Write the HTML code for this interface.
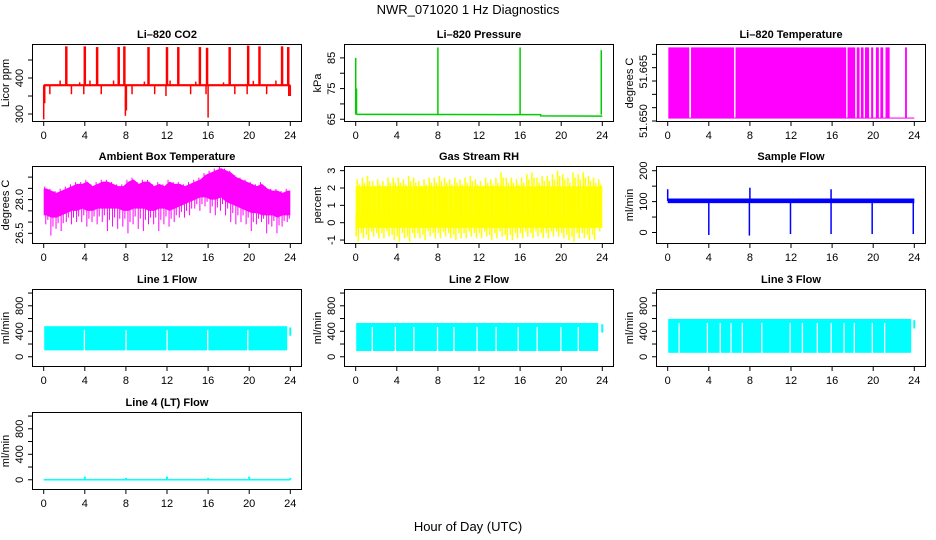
<!DOCTYPE html>
<html><head><meta charset="utf-8"><style>
html,body{margin:0;padding:0;background:#fff}
svg{display:block;font-family:"Liberation Sans",Arial,sans-serif}
</style></head><body>
<svg id="c" width="936" height="540" viewBox="0 0 936 540" xmlns="http://www.w3.org/2000/svg">
<text x="468" y="14" text-anchor="middle" font-size="13">NWR_071020  1 Hz Diagnostics</text>
<text x="468" y="531" text-anchor="middle" font-size="13">Hour of Day (UTC)</text>
</svg>
<script>
// ---- data ----
const xTicks=[0,4,8,12,16,20,24];
// CO2
const co2Base=380;
const co2SpikeH=[2.2,4.0,5.2,7.3,7.85,10.2,12.0,13.1,15.2,15.9,18.1,19.9,21.0,23.2,23.8];
const co2SpikeV=[488,488,486,486,488,486,486,486,486,484,486,490,488,488,486];
const co2DipH=[0.0,0.1,0.6,2.7,3.9,5.6,7.95,8.05,8.6,10.8,11.9,14.3,15.8,16.0,18.6,19.8,21.7,23.85,24.0];
const co2DipV=[285,330,355,355,355,355,295,310,355,355,350,355,355,290,355,355,355,350,350];
const co2BumpH=[1.6,3.5,4.5,6.8,9.8,12.3,14.8,17.5,20.4,22.6];
const co2BumpV=[393,388,393,393,390,393,390,388,392,393];
// Pressure
const presBaseH=[0.1,18,18.01,24];
const presBaseV=[66.6,66.5,66.1,66.0];
const presSpikeH=[0.0,0.08,8.0,16.0,23.9];
const presSpikeV=[85,75,88.4,88.4,87.5];
// Li-820 temperature
const tempHighStart=[0.06,2.27,6.6,17.5,18.4,18.8,19.2,19.8,20.26,20.7,21.2,23.1];
const tempHighEnd=[2.1,6.46,17.37,18.25,18.67,19.06,19.6,20.0,20.55,20.97,21.6,23.28];
const tempLow=51.6511, tempHigh=51.6776;
// Ambient box temp (half-hour bins)
const ambHi=[28.5,28.4,28.3,28.4,28.5,28.6,28.7,28.7,28.8,28.6,28.7,28.8,28.8,28.7,28.6,28.6,28.8,28.9,28.7,28.8,28.8,28.6,28.7,28.6,28.8,28.7,28.7,28.6,28.7,28.8,28.9,29.1,29.2,29.3,29.4,29.3,29.2,29.0,28.9,28.8,28.7,28.6,28.7,28.5,28.4,28.4,28.3,28.4];
const ambLo=[27.3,27.2,27.2,27.3,27.4,27.5,27.5,27.6,27.5,27.5,27.6,27.6,27.6,27.6,27.6,27.5,27.5,27.6,27.6,27.6,27.5,27.5,27.6,27.6,27.5,27.6,27.7,27.8,27.9,28.0,28.1,28.1,28.0,28.0,28.1,27.9,27.8,27.7,27.6,27.5,27.4,27.4,27.3,27.3,27.3,27.2,27.3,27.3];
const ambDip=[26.9,26.4,26.7,26.6,27.0,26.9,27.0,27.0,26.8,27.0,26.9,27.0,26.6,26.8,26.7,26.8,26.5,26.9,26.7,26.6,26.9,26.9,26.6,26.9,26.8,27.0,27.2,27.2,27.3,27.6,27.5,27.7,27.4,27.3,27.5,27.3,27.0,26.9,27.0,26.9,26.6,26.9,27.0,26.5,26.8,26.5,26.8,27.0];
// Gas stream RH
const rhHi=[2.5,2.6,2.7,2.4,2.5,2.4,2.6,2.6,2.6,2.5,2.7,2.6,2.4,2.5,2.6,2.6,2.7,2.6,2.5,2.6,2.5,2.6,2.7,2.5,2.4,2.6,2.5,2.6,2.9,2.6,2.6,2.5,2.6,2.8,2.9,2.6,2.7,2.7,2.8,3.0,2.8,2.6,2.9,2.8,2.9,2.7,2.6,2.5];
const rhLo=[-1.1,-0.9,-1.0,-0.8,-0.9,-0.9,-0.8,-1.0,-1.1,-0.9,-1.1,-0.9,-0.9,-1.0,-0.8,-0.9,-0.9,-0.8,-0.9,-1.0,-0.9,-0.9,-0.8,-0.9,-0.9,-0.8,-1.0,-0.9,-0.8,-1.0,-1.0,-0.9,-0.9,-0.8,-0.9,-0.8,-0.9,-0.9,-0.8,-0.8,-0.9,-1.0,-1.1,-0.9,-0.9,-1.0,-1.0,-0.5];
// Sample flow
const sfHi=110, sfLo=95, sfBase=102;
const sfDipH=[4.0,7.95,11.95,15.9,19.9,23.9];
const sfDipV=[-8,-10,-5,-5,-5,-5];
const sfSpikeH=[0.0,8.0,15.9];
const sfSpikeV=[140,145,140];
// Line flows
const l1Hi=480,l1Lo=100,l1Gaps=[3.9,7.95,11.95,15.9,19.8];
const l2Hi=530,l2Lo=90,l2Gaps=[1.55,3.8,5.6,7.9,9.5,11.75,13.6,15.75,17.6,19.9,21.6];
const l3Hi=594,l3Lo=62,l3Gaps=[1.05,3.8,5.05,6.1,7.2,9.1,11.85,13.05,14.5,15.85,17.1,18.1,19.85,21.05];
const l4Base=0;
const l4SpikeH=[4,8,12,16,20,24];
const l4SpikeV=[50,30,50,30,50,30];

// ---- layout ----
const svg=document.getElementById('c');
const NS='http://www.w3.org/2000/svg';
const colL=[33,345,657], rowT=[45,167,290,413], BW=268, BH=76;
function el(tag,attrs,parent){const e=document.createElementNS(NS,tag);for(const k in attrs)e.setAttribute(k,attrs[k]);(parent||svg).appendChild(e);return e;}
function panel(c,r,o){
  const L=colL[c],T=rowT[r];
  const g=el('g',{});
  
  
  const x=h=>L+10.7+h*246.6/24;
  const y=v=>T+BH-(v-o.ymin)/(o.ymax-o.ymin)*BH;
  const plot=el('g',{},g);
  
  
  const ax=el('g',{stroke:'#000','stroke-width':1,fill:'none'},g);
  
  
  const t=el('text',{x:L+BW/2,y:T-7,'text-anchor':'middle','font-size':11,'font-weight':'bold'},g);
  t.textContent=o.title;
  
  
  el('line',{x1:x(0),x2:x(24),y1:T+BH+0.5,y2:T+BH+0.5},ax);
  xTicks.forEach(h=>{el('line',{x1:x(h),x2:x(h),y1:T+BH,y2:T+BH+5},ax);
    const lt=el('text',{x:x(h),y:T+BH+18,'text-anchor':'middle','font-size':11,fill:'#000',stroke:'none'},g);lt.textContent=h;
    
    });
  const y0=y(o.ticks[0]),y1=y(o.ticks[o.ticks.length-1]);
  el('line',{x1:L-0.5,x2:L-0.5,y1:y0,y2:y1},ax);
  o.ticks.forEach(v=>{el('line',{x1:L-5,x2:L,y1:y(v),y2:y(v)},ax);});
  o.labels.forEach((lab,i)=>{const v=o.labelVals[i];const yy=y(v);
    const lt=el('text',{transform:`translate(${L-10},${yy}) rotate(-90)`,'text-anchor':'middle','font-size':11},g);lt.textContent=lab;
    
    });
  const yt=el('text',{transform:`translate(${L-24},${T+BH/2}) rotate(-90)`,'text-anchor':'middle','font-size':11},g);yt.textContent=o.ytitle;
  
  
  el('rect',{x:L-0.5,y:T-0.5,width:BW+1,height:BH+1,fill:'none',stroke:'#000'},g);
  return {x,y,g:plot};
}
function vline(p,h,a,b,col,w){el('line',{x1:p.x(h),x2:p.x(h),y1:p.y(a),y2:p.y(b),stroke:col,'stroke-width':w||1},p.g);}
function band(p,h0,h1,a,b,col){el('rect',{x:p.x(h0),y:p.y(b),width:p.x(h1)-p.x(h0),height:p.y(a)-p.y(b),fill:col},p.g);}

// CO2
let p=panel(0,0,{name:'co2',title:'Li\u2013820 CO2',ytitle:'Licor ppm',ymin:280.6,ymax:491.7,ticks:[300,350,400,450],labels:['300','400'],labelVals:[300,400]});
band(p,0,24,co2Base-3,co2Base+3,'#f00');
co2BumpH.forEach((h,i)=>vline(p,h,co2Base,co2BumpV[i],'#f00',1.5));
co2DipH.forEach((h,i)=>vline(p,h,co2Base,co2DipV[i],'#f00',1.5));
co2SpikeH.forEach((h,i)=>vline(p,h,co2Base,co2SpikeV[i],'#f00',2.5));

// Pressure
p=panel(1,0,{name:'pressure',title:'Li\u2013820 Pressure',ytitle:'kPa',ymin:64.43,ymax:89.2,ticks:[65,70,75,80,85],labels:['65','75','85'],labelVals:[65,75,85]});
el('polyline',{points:presBaseH.map((h,i)=>p.x(h)+','+p.y(presBaseV[i])).join(' '),fill:'none',stroke:'#00cc00','stroke-width':1.5},p.g);
presSpikeH.forEach((h,i)=>vline(p,h,66.5,presSpikeV[i],'#00cc00',1.5));

// Li-820 temperature
p=panel(2,0,{name:'li820-temp',title:'Li\u2013820 Temperature',ytitle:'degrees C',ymin:51.650,ymax:51.6785,ticks:[51.650,51.655,51.660,51.665,51.670,51.675],labels:['51.650','51.665'],labelVals:[51.650,51.6685]});
band(p,0.06,24,tempLow-0.0002,tempLow+0.0002,'#f0f');
tempHighStart.forEach((s,i)=>band(p,s,tempHighEnd[i],tempLow,tempHigh,'#f0f'));

// Ambient
p=panel(0,1,{name:'ambient-temp',title:'Ambient Box Temperature',ytitle:'degrees C',ymin:26.07,ymax:29.45,ticks:[26.5,27,27.5,28,28.5,29],labels:['26.5','28.0'],labelVals:[26.5,28.0]});
{
  const top=ambHi.map((v,i)=>p.x(i*0.5+0.25)+','+p.y(v));
  const bot=ambLo.map((v,i)=>p.x(i*0.5+0.25)+','+p.y(v)).reverse();
  el('polygon',{points:[p.x(0)+','+p.y(ambHi[0]),...top,p.x(24)+','+p.y(ambHi[47]),p.x(24)+','+p.y(ambLo[47]),...bot,p.x(0)+','+p.y(ambLo[0])].join(' '),fill:'#f0f'},p.g);
  ambHi.forEach((v,i)=>{const h0=i*0.5;
    vline(p,h0+0.2,ambLo[i]+0.2,ambDip[i],'#f0f',1);
    vline(p,h0+0.4,ambLo[i]+0.2,(ambDip[i]+ambLo[i])/2,'#f0f',1);
    vline(p,h0+0.1,v-0.4,v+0.08,'#f0f',1);});
}

// RH
p=panel(1,1,{name:'rh',title:'Gas Stream RH',ytitle:'percent',ymin:-1.17,ymax:3.21,ticks:[-1,0,1,2,3],labels:['-1','0','1','2','3'],labelVals:[-1,0,1,2,3]});
rhHi.forEach((v,i)=>{const h0=i*0.5;band(p,h0,h0+0.5,-0.3,2.1,'#ff0');
  vline(p,h0+0.15,0.5,v,'#ff0',1.5);vline(p,h0+0.35,0.5,v-0.3,'#ff0',1.5);
  vline(p,h0+0.25,0.5,rhLo[i],'#ff0',1.5);vline(p,h0+0.05,0.5,rhLo[i]+0.3,'#ff0',1.5);});

// Sample flow
p=panel(2,1,{name:'sample-flow',title:'Sample Flow',ytitle:'ml/min',ymin:-34,ymax:212,ticks:[0,50,100,150,200],labels:['0','100','200'],labelVals:[0,100,200]});
band(p,0,24,sfLo,sfHi,'#00f');
sfDipH.forEach((h,i)=>vline(p,h,sfBase,sfDipV[i],'#00f',1.5));
sfSpikeH.forEach((h,i)=>vline(p,h,sfBase,sfSpikeV[i],'#00f',1.5));

// Line flows
const fT=[0,200,400,600,800,1000],fL=['0','400','800'],fV=[0,400,800];
function flow(c,r,name,title,hi,lo,gaps,end){
  const q=panel(c,r,{name,title,ytitle:'ml/min',ymin:-145,ymax:1048,ticks:fT,labels:fL,labelVals:fV});
  band(q,0.05,end,lo,hi,'#0ff');
  gaps.forEach(h=>el('rect',{x:q.x(h),y:q.y(hi)+4,width:1.3,height:q.y(lo)-q.y(hi)-4,fill:'#fff'},q.g));
  vline(q,24,hi-150,hi-20,'#0ff',2);
  return q;
}
flow(0,2,'line1-flow','Line 1 Flow',l1Hi,l1Lo,l1Gaps,23.7);
flow(1,2,'line2-flow','Line 2 Flow',l2Hi,l2Lo,l2Gaps,23.6);
flow(2,2,'line3-flow','Line 3 Flow',l3Hi,l3Lo,l3Gaps,23.7);
p=panel(0,3,{name:'line4-flow',title:'Line 4 (LT) Flow',ytitle:'ml/min',ymin:-145,ymax:1048,ticks:fT,labels:fL,labelVals:fV});
band(p,0,24,l4Base-12,l4Base+12,'#0ff');
l4SpikeH.forEach((h,i)=>vline(p,h,l4Base,l4SpikeV[i],'#0ff',2));
</script>
</body></html>
